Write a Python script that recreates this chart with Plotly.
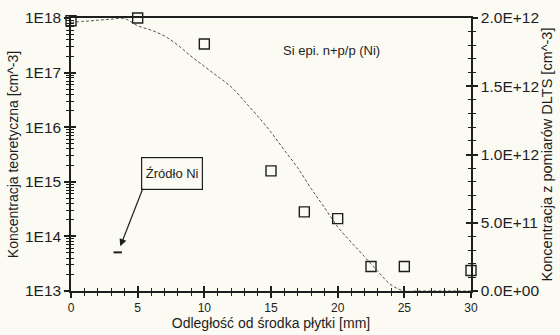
import plotly.graph_objects as go

# Theoretical Ni concentration (left, log axis)
theory_x = [0, 1, 2, 3, 4, 5, 6, 7, 8, 9, 10, 11, 12, 13, 14, 15, 16, 17, 18, 19,
            20, 21, 22, 23, 24, 25, 26, 27, 28, 29, 30]
theory_c = [8.3e17, 8.7e17, 9.1e17, 9.5e17, 9.8e17, 7.2e17, 6.0e17, 4.7e17, 3.2e17, 2.0e17,
            1.3e17, 8.5e16, 5.5e16, 3.0e16, 1.6e16, 8.1e15, 3.8e15, 1.8e15, 7.6e14, 3.4e14,
            1.5e14, 7.9e13, 4.3e13, 2.3e13, 1.3e13, 1.0e13, 1.0e13, 1.0e13, 1.0e13, 1.0e13, 1.0e13]

# DLTS measurements (right, linear axis)
dlts_x = [0, 5, 10, 15, 17.5, 20, 22.5, 25, 30]
dlts_c = [1.98e12, 2.0e12, 1.81e12, 0.88e12, 0.58e12, 0.53e12, 0.18e12, 0.18e12, 0.15e12]

# Ni source marker
source_x = [3.5]
source_c = [5.1e13]

left_tickvals = [1e13, 1e14, 1e15, 1e16, 1e17, 1e18]
left_ticktext = ["1E13", "1E14", "1E15", "1E16", "1E17", "1E18"]
right_tickvals = [0, 5e11, 1e12, 1.5e12, 2e12]
right_ticktext = ["0.0E+00", "5.0E+11", "1.0E+12", "1.5E+12", "2.0E+12"]

FONT = "Liberation Sans, Arial, sans-serif"
INK = "#1e1e1e"
BG = "#fbfaf3"

fig = go.Figure()
fig.add_trace(go.Scatter(x=theory_x, y=theory_c, mode="lines", xaxis="x", yaxis="y",
                         line=dict(color="#555555", width=1, dash="3px,2px", shape="spline"),
                         hoverinfo="skip"))
fig.add_trace(go.Scatter(x=source_x, y=source_c, mode="markers", xaxis="x", yaxis="y",
                         marker=dict(symbol="line-ew", size=6, line=dict(color=INK, width=2)),
                         cliponaxis=False))
fig.add_trace(go.Scatter(x=dlts_x, y=dlts_c, mode="markers", xaxis="x", yaxis="y2",
                         marker=dict(symbol="square-open", size=10, color=INK,
                                     line=dict(color=INK, width=1.4)),
                         cliponaxis=False))
# empty traces that activate the overlay axes carrying the inward half of each tick
fig.add_trace(go.Scatter(x=[None], y=[None], xaxis="x2", yaxis="y3", showlegend=False))
fig.add_trace(go.Scatter(x=[None], y=[None], xaxis="x2", yaxis="y4", showlegend=False))

TK = dict(tickcolor=INK, tickwidth=1.5, ticklen=5)
MN = dict(tickcolor=INK, tickwidth=1.2, ticklen=3, showgrid=False)

fig.update_layout(
    width=560, height=335,
    margin=dict(l=71, r=89, t=18, b=44),
    paper_bgcolor=BG, plot_bgcolor=BG,
    showlegend=False,
    font=dict(family=FONT, color=INK, size=13),
    xaxis=dict(range=[0, 30], dtick=5, tick0=0, showgrid=False, zeroline=False, automargin=False,
               anchor="y", ticks="outside", **TK,
               minor=dict(dtick=1, tick0=0, ticks="outside", **MN),
               showline=True, linecolor=INK, linewidth=1.5, mirror=True,
               tickfont=dict(size=12),
               title=dict(text="Odległość od środka płytki [mm]", font=dict(size=14), standoff=2)),
    xaxis2=dict(range=[0, 30], dtick=5, tick0=0, showgrid=False, zeroline=False, automargin=False,
                overlaying="x", anchor="y", side="bottom", ticks="inside", **TK,
                showticklabels=False, showline=False,
                minor=dict(dtick=1, tick0=0, ticks="inside", **MN)),
    yaxis=dict(type="log", range=[13, 18], tickmode="array", tickvals=left_tickvals,
               ticktext=left_ticktext, ticks="outside", **TK, automargin=False,
               minor=dict(dtick="D1", ticks="outside", **MN),
               showgrid=False, zeroline=False, showline=True, linecolor=INK, linewidth=1.5,
               tickfont=dict(size=15.5),
               title=dict(text="Koncentracja teoretyczna [cm^-3]", font=dict(size=14), standoff=3)),
    yaxis3=dict(type="log", range=[13, 18], overlaying="y", side="left", anchor="x2",
                tickmode="array", tickvals=left_tickvals, ticks="inside", **TK, automargin=False,
                showticklabels=False, showgrid=False, zeroline=False, showline=False,
                minor=dict(dtick="D1", ticks="inside", **MN)),
    yaxis2=dict(range=[0, 2e12], overlaying="y", side="right", anchor="x", tickmode="array",
                tickvals=right_tickvals, ticktext=right_ticktext, ticks="outside", **TK,
                automargin=False,
                minor=dict(dtick=1e11, tick0=0, ticks="outside", **MN),
                showgrid=False, zeroline=False, showline=True, linecolor=INK, linewidth=1.5,
                tickfont=dict(size=15.5),
                title=dict(text="Koncentracja z pomiarów DLTS [cm^-3]", font=dict(size=14.5), standoff=3)),
    yaxis4=dict(range=[0, 2e12], overlaying="y", side="right", anchor="x2", tickmode="array",
                tickvals=right_tickvals, ticks="inside", **TK, automargin=False,
                showticklabels=False, showgrid=False, zeroline=False, showline=False,
                minor=dict(dtick=1e11, tick0=0, ticks="inside", **MN)),
)

fig.add_annotation(x=19.5, y=17.4, xref="x", yref="y", text="Si epi. n+p/p (Ni)",
                   showarrow=False, font=dict(size=13, color=INK))
fig.add_annotation(x=7.6, y=15.16, xref="x", yref="y", text="Źródło Ni", showarrow=False,
                   font=dict(size=13, color=INK), bordercolor=INK, borderwidth=1.2,
                   borderpad=2, width=56, height=27, bgcolor=BG)
fig.add_annotation(x=3.7, y=13.82, xref="x", yref="y", text="", showarrow=True,
                   ax=23, ay=-59, arrowhead=2, arrowsize=1.2, arrowwidth=1.2, arrowcolor=INK)

fig.write_html("out.html", config={"displayModeBar": False},
               post_script="document.body.style.margin='0';document.body.style.background='#fbfaf3';")
